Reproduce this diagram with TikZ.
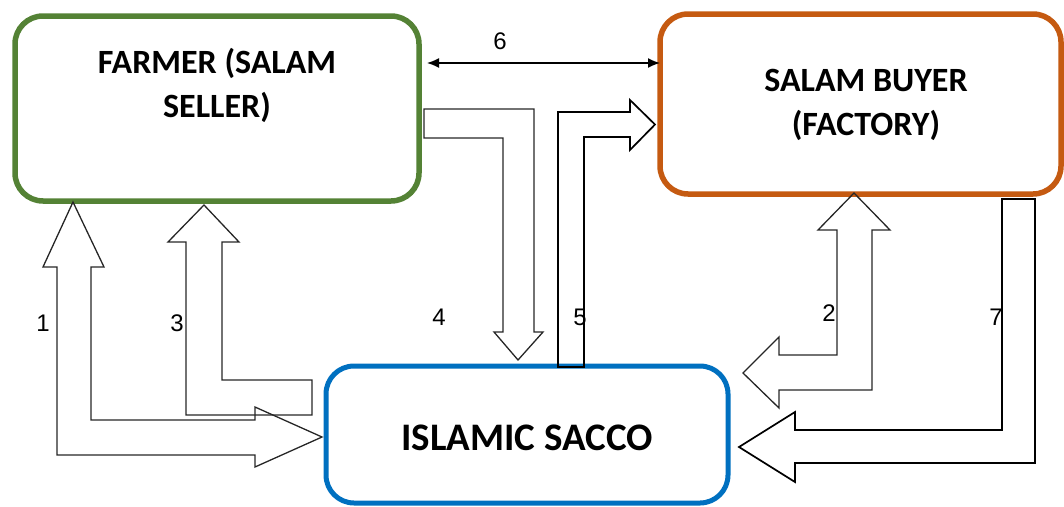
\documentclass[tikz,border=0pt]{standalone}
\usepackage{fontspec}
\setmainfont{Carlito}
\newfontfamily\numfont{Liberation Sans}
\usetikzlibrary{arrows.meta,calc}

\definecolor{farmgreen}{HTML}{548235}
\definecolor{buyorange}{HTML}{C55A11}
\definecolor{saccoblue}{HTML}{0070C0}

\tikzset{
  party/.style={draw, rounded corners=28pt, line width=5.5pt, outer sep=0pt,
    fill=white},
  partytext/.style={font=\fontsize{34}{44}\selectfont\bfseries, align=center,
    inner sep=0pt},
  blockarrow/.style={draw=black!85, line width=1.3pt, line join=miter},
  darkarrow/.style={draw=black, line width=1.7pt, line join=miter},
  steplabel/.style={font=\numfont\fontsize{24}{24}\selectfont, inner sep=0pt},
  linkarrow/.style={line width=1.5pt, {Latex[length=12pt,width=10pt]}-{Latex[length=12pt,width=10pt]}}
}

\begin{document}
\begin{tikzpicture}[x=1pt,y=-1pt]
\useasboundingbox (0,0) rectangle (1064,506);

% the three parties
\node[party, draw=farmgreen, minimum width=404pt, minimum height=185pt]
  (farmer) at (217,108.5) {};
\node[party, draw=buyorange, minimum width=401pt, minimum height=180pt]
  (buyer) at (860.5,104) {};
\node[party, draw=saccoblue, line width=5pt, minimum width=402pt, minimum height=137pt]
  (sacco) at (527,434.5) {};

\node[partytext] (farmertext) at (217,85) {FARMER (SALAM\\SELLER)};
\node[partytext] (buyertext) at (866,105) {SALAM BUYER\\(FACTORY)};
\node[partytext, font=\fontsize{39}{44}\selectfont\bfseries] (saccotext)
  at (527,438) {ISLAMIC SACCO};

% tips of the block arrows on the party boxes
\coordinate (t1) at (73,202);
\coordinate (t1b) at (322,437);
\coordinate (t3) at (204,205);
\coordinate (t4) at (518,360);
\coordinate (t5) at (655,124.5);
\coordinate (t2) at (854,193);
\coordinate (t2b) at (743,373);
\coordinate (t7) at (739,447);

% 1: farmer <-> sacco, L-shaped
\draw[blockarrow] (t1) -- (104,267) -- (91,267) -- (91,420) -- (255,420)
  -- (255,407) -- (t1b) -- (255,467) -- (255,455) -- (57,455) -- (57,267)
  -- (43,267) -- cycle;
% 3: sacco -> farmer
\draw[blockarrow] (t3) -- (239,242) -- (222,242) -- (222,380) -- (312,380)
  -- (312,415) -- (186,415) -- (186,242) -- (168,242) -- cycle;
% 4: farmer -> sacco
\draw[blockarrow] (424,109) -- (534,109) -- (534,332) -- (543,332) -- (t4)
  -- (494,332) -- (503,332) -- (503,138) -- (424,138) -- cycle;
% 5: sacco -> buyer
\draw[darkarrow] (558,367) -- (558,112) -- (630,112) -- (630,100) -- (t5)
  -- (630,150) -- (630,137) -- (584,137) -- (584,367) -- cycle;
% 2: buyer <-> sacco
\draw[blockarrow] (t2) -- (890,230) -- (872,230) -- (872,390) -- (779,390)
  -- (779,408) -- (t2b) -- (779,337) -- (779,355) -- (837,355) -- (837,230)
  -- (818,230) -- cycle;
% 7: buyer -> sacco
\draw[darkarrow] (1002,199) -- (1035,199) -- (1035,463) -- (795,463)
  -- (795,482) -- (t7) -- (795,412) -- (795,430) -- (1002,430) -- cycle;

% 6: direct link farmer <-> buyer
\coordinate (l6a) at (farmer.east |- 0,63);
\coordinate (l6b) at (buyer.west |- 0,63);
\draw[linkarrow] ($(l6a)+(8,0)$) -- (l6b);

% step numbers
\node[steplabel] (n1) at (43,323) {1};
\node[steplabel] (n2) at (829,313) {2};
\node[steplabel] (n3) at (177,323) {3};
\node[steplabel] (n4) at (439,317) {4};
\node[steplabel] (n5) at (580,317) {5};
\node[steplabel] (n6) at (500,41) {6};
\node[steplabel] (n7) at (996,317) {7};
\end{tikzpicture}
\end{document}
